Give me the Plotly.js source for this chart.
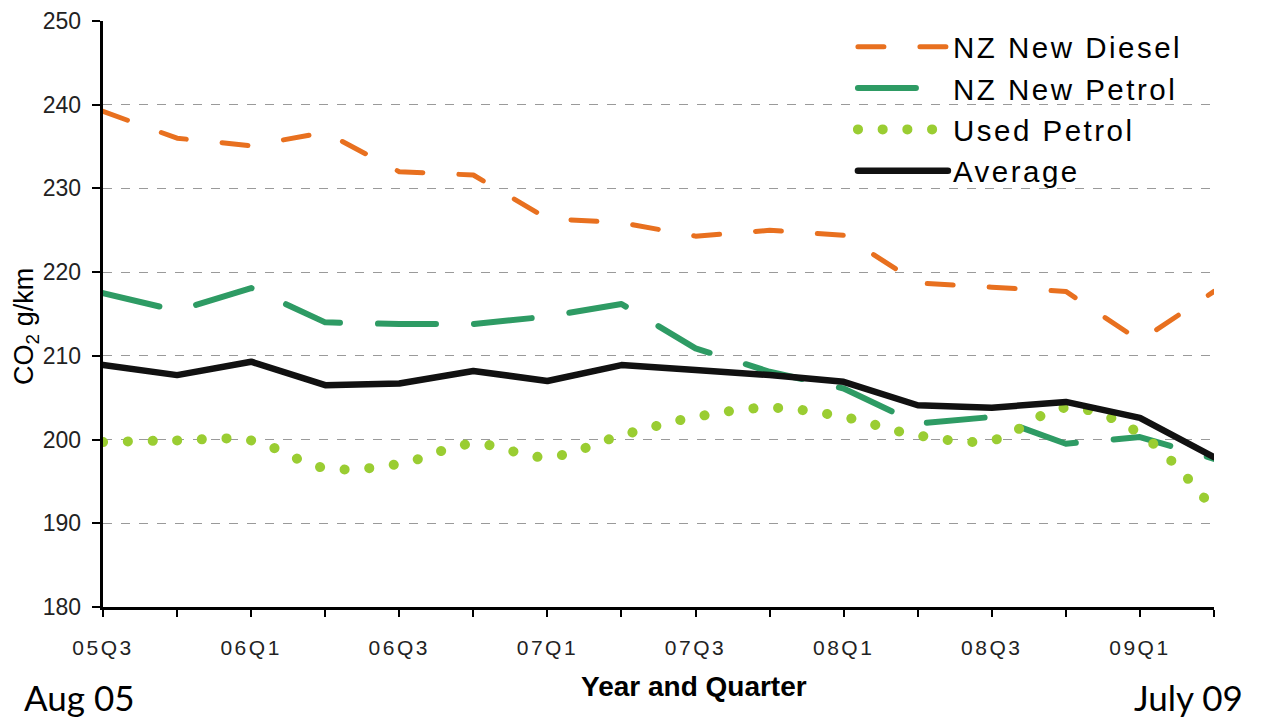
<!DOCTYPE html>
<html>
<head>
<meta charset="utf-8">
<script src="https://cdn.plot.ly/plotly-3.0.1.min.js"></script>
<style>
  html, body { margin: 0; padding: 0; background: #fff; }
  #chart { width: 1263px; height: 718px; }
  .scatterlayer .js-line, .legend .js-line { stroke-linecap: round !important; stroke-linejoin: round !important; }
  .xtick text { letter-spacing: 2.5px; }
  .legendtext { letter-spacing: 2.5px; }
</style>
</head>
<body>
<div id="chart"></div>
<script>
// Categories: quarters from 05Q3 to 09Q2
const quarters = ['05Q3','05Q4','06Q1','06Q2','06Q3','06Q4','07Q1','07Q2','07Q3','07Q4','08Q1','08Q2','08Q3','08Q4','09Q1','09Q2'];
// Tick labels shown (every other quarter)
const tickLabels = ['05Q3','','06Q1','','06Q3','','07Q1','','07Q3','','08Q1','','08Q3','','09Q1',''];

// Series values (CO2 g/km)
const nzNewDiesel = [239.2, 236.0, 235.1, 236.7, 232.0, 231.6, 226.4, 225.9, 224.3, 225.0, 224.4, 218.7, 218.2, 217.7, 211.8, 217.7];
const nzNewPetrol = [217.5, 215.4, 218.1, 214.0, 213.8, 213.8, 214.7, 216.2, 210.9, 208.1, 206.1, 201.9, 202.7, 199.5, 200.3, 197.7];
const usedPetrol  = [199.7, 199.9, 199.9, 196.6, 197.1, 199.5, 197.9, 200.5, 202.7, 203.8, 202.7, 200.5, 199.9, 203.8, 200.7, 191.6];
const average     = [208.9, 207.7, 209.3, 206.5, 206.7, 208.2, 207.0, 208.9, 208.3, 207.7, 206.9, 204.1, 203.8, 204.5, 202.6, 197.9];

const traces = [
  { x: quarters, y: nzNewDiesel, name: 'NZ New Diesel', type: 'scatter', mode: 'lines',
    line: { color: '#E8701F', width: 5, dash: '26px,36px' } },
  { x: quarters, y: nzNewPetrol, name: 'NZ New Petrol', type: 'scatter', mode: 'lines',
    line: { color: '#2E9B64', width: 6, dash: '58px,38px' } },
  { x: quarters, y: usedPetrol, name: 'Used Petrol', type: 'scatter', mode: 'lines',
    line: { color: '#9ACD32', width: 10, dash: '0.1px,24.6px', shape: 'spline', smoothing: 1 } },
  { x: quarters, y: average, name: 'Average', type: 'scatter', mode: 'lines',
    line: { color: '#111111', width: 6.5 } }
];

const font = 'Liberation Sans, Arial, sans-serif';

const layout = {
  width: 1263, height: 718,
  margin: { l: 103, r: 49, t: 21, b: 111 },
  paper_bgcolor: '#ffffff', plot_bgcolor: '#ffffff',
  font: { family: font, color: '#222' },
  showlegend: true,
  legend: {
    x: 0.675, y: 1.0, xanchor: 'left', yanchor: 'top',
    bgcolor: 'rgba(0,0,0,0)', borderwidth: 0,
    font: { family: font, size: 29.5, color: '#000' },
    itemwidth: 90, tracegroupgap: 0
  },
  xaxis: {
    type: 'category', categoryorder: 'array', categoryarray: quarters,
    range: [0, quarters.length - 1],
    tickmode: 'array', tickvals: quarters, ticktext: tickLabels,
    showline: true, linecolor: '#000', linewidth: 3,
    ticks: 'outside', ticklen: 7, tickwidth: 2, tickcolor: '#000',
    tickfont: { family: font, size: 21, color: '#222' },
    ticklabelstandoff: 13,
    showgrid: false, zeroline: false, fixedrange: true
  },
  yaxis: {
    range: [180, 250], dtick: 10, tick0: 180,
    showline: true, linecolor: '#000', linewidth: 3,
    ticks: 'outside', ticklen: 8, tickwidth: 2, tickcolor: '#000',
    tickfont: { family: font, size: 23, color: '#222' },
    ticksuffix: '\u00a0',
    showgrid: true, gridcolor: '#9a9a9a', gridwidth: 1, griddash: 'dash',
    zeroline: false, fixedrange: true
  },
  annotations: [
    { text: 'CO<sub>2</sub> g/km', xref: 'paper', yref: 'paper', x: 0, y: 0.478,
      xanchor: 'center', yanchor: 'middle', xshift: -77, textangle: -90, showarrow: false,
      font: { family: font, size: 27, color: '#000' } },
    { text: '<b>Year and Quarter</b>', xref: 'paper', yref: 'paper', x: 0.532, y: -0.135,
      xanchor: 'center', yanchor: 'middle', showarrow: false,
      font: { family: font, size: 28, color: '#000' } },
    { text: 'Aug 05', xref: 'paper', yref: 'paper', x: -0.073, y: -0.1536,
      xanchor: 'left', yanchor: 'middle', showarrow: false,
      font: { family: 'Lato, Noto Sans, sans-serif', size: 35, color: '#000' } },
    { text: 'July 09', xref: 'paper', yref: 'paper', x: 1.028, y: -0.1536,
      xanchor: 'right', yanchor: 'middle', showarrow: false,
      font: { family: 'Lato, Noto Sans, sans-serif', size: 35, color: '#000' } }
  ]
};

Plotly.newPlot('chart', traces, layout, { displayModeBar: false, staticPlot: true });
</script>
</body>
</html>
